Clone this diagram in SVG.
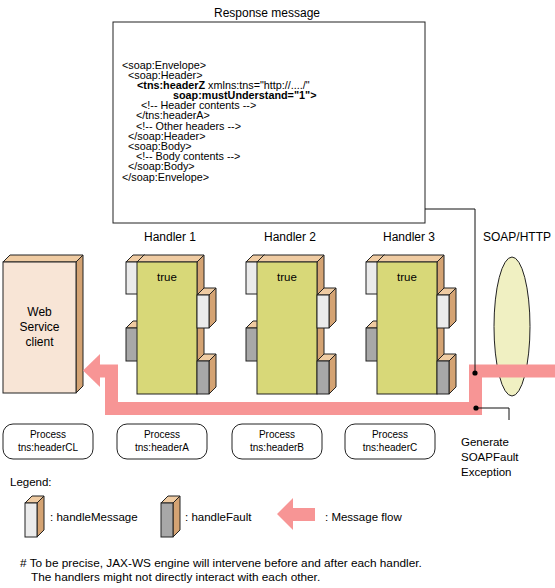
<svg xmlns="http://www.w3.org/2000/svg" width="555" height="588" viewBox="0 0 555 588">
<style>
text{font-family:"Liberation Sans",Arial,sans-serif;fill:#000}
.t12{font-size:12px}
.t11{font-size:11.5px}
.t10{font-size:10px}
.fn{font-size:11.8px}
.x{font-size:10.8px}
.b{font-weight:bold}
.mid{text-anchor:middle}
.ln{stroke:#222;stroke-width:1;stroke-linejoin:miter}
.top{fill:#EFCBA2}
.side{fill:#D4A373}
.wf{fill:#EBEBEB}
.gf{fill:#A8A8A8}
.yf{fill:#D8D878}
.cf{fill:#F8E5D6}
.pink{fill:none;stroke:#F79595;stroke-width:13;stroke-linejoin:miter}
</style>
<rect width="555" height="588" fill="#fff"/>

<g id="response">
<text class="t12 mid" x="267" y="17">Response message</text>
<rect x="113" y="22" width="312" height="201" fill="#fff" stroke="#222" stroke-width="1"/>
<g class="x">
<text x="122" y="68.5">&lt;soap:Envelope&gt;</text>
<text x="128" y="78.7">&lt;soap:Header&gt;</text>
<text x="137" y="88.9"><tspan class="b">&lt;tns:headerZ</tspan> xmlns:tns="http://..../"</text>
<text x="173" y="99.1" class="b">soap:mustUnderstand="1"&gt;</text>
<text x="141" y="109.2">&lt;!-- Header contents --&gt;</text>
<text x="136" y="119.4">&lt;/tns:headerA&gt;</text>
<text x="136" y="129.6">&lt;!-- Other headers --&gt;</text>
<text x="128" y="139.8">&lt;/soap:Header&gt;</text>
<text x="128" y="150">&lt;soap:Body&gt;</text>
<text x="136" y="160.2">&lt;!-- Body contents --&gt;</text>
<text x="128" y="170.3">&lt;/soap:Body&gt;</text>
<text x="122" y="180.5">&lt;/soap:Envelope&gt;</text>
</g>
</g>

<g id="client">
<polygon class="top ln" points="3,262 10,255 83,255 76,262"/>
<polygon class="side ln" points="76,262 83,255 83,386 76,393"/>
<rect class="cf ln" x="3" y="262" width="73" height="131"/>
<text class="t12 mid" x="39.5" y="316">Web</text>
<text class="t12 mid" x="39.5" y="331">Service</text>
<text class="t12 mid" x="39.5" y="346">client</text>
</g>

<g id="soap-http">
<text class="t12 mid" x="517" y="241">SOAP/HTTP</text>
<ellipse cx="512" cy="326.5" rx="18" ry="69.5" fill="#F0F0C2" stroke="#222" stroke-width="1"/>
</g>

<g id="handler1">
<text class="t12 mid" x="170" y="241">Handler 1</text>
<polygon class="top ln" points="126,262 133,255 145,255 138,262"/>
<rect class="wf ln" x="126" y="262" width="12" height="32"/>
<polygon class="top ln" points="126,328 133,321 145,321 138,328"/>
<rect class="gf ln" x="126" y="328" width="12" height="33"/>
<polygon class="top ln" points="137,262 144,255 204,255 197,262"/>
<polygon class="side ln" points="197,262 204,255 204,387 197,394"/>
<rect class="yf ln" x="137" y="262" width="60" height="132"/>
<text class="t11 mid" x="167" y="281">true</text>
<polygon class="top ln" points="197,295 204,288 216,288 209,295"/>
<polygon class="side ln" points="209,295 216,288 216,321 209,328"/>
<rect class="wf ln" x="197" y="295" width="12" height="33"/>
<polygon class="top ln" points="197,361 204,354 216,354 209,361"/>
<polygon class="side ln" points="209,361 216,354 216,387 209,394"/>
<rect class="gf ln" x="197" y="361" width="12" height="33"/>
</g>

<g id="handler2" transform="translate(120,0)">
<text class="t12 mid" x="170" y="241">Handler 2</text>
<polygon class="top ln" points="126,262 133,255 145,255 138,262"/>
<rect class="wf ln" x="126" y="262" width="12" height="32"/>
<polygon class="top ln" points="126,328 133,321 145,321 138,328"/>
<rect class="gf ln" x="126" y="328" width="12" height="33"/>
<polygon class="top ln" points="137,262 144,255 204,255 197,262"/>
<polygon class="side ln" points="197,262 204,255 204,387 197,394"/>
<rect class="yf ln" x="137" y="262" width="60" height="132"/>
<text class="t11 mid" x="167" y="281">true</text>
<polygon class="top ln" points="197,295 204,288 216,288 209,295"/>
<polygon class="side ln" points="209,295 216,288 216,321 209,328"/>
<rect class="wf ln" x="197" y="295" width="12" height="33"/>
<polygon class="top ln" points="197,361 204,354 216,354 209,361"/>
<polygon class="side ln" points="209,361 216,354 216,387 209,394"/>
<rect class="gf ln" x="197" y="361" width="12" height="33"/>
</g>

<g id="handler3" transform="translate(240,0)">
<text class="t12 mid" x="169" y="241">Handler 3</text>
<polygon class="top ln" points="126,262 133,255 145,255 138,262"/>
<rect class="wf ln" x="126" y="262" width="12" height="32"/>
<polygon class="top ln" points="126,328 133,321 145,321 138,328"/>
<rect class="gf ln" x="126" y="328" width="12" height="33"/>
<polygon class="top ln" points="137,262 144,255 204,255 197,262"/>
<polygon class="side ln" points="197,262 204,255 204,387 197,394"/>
<rect class="yf ln" x="137" y="262" width="60" height="132"/>
<text class="t11 mid" x="167" y="281">true</text>
<polygon class="top ln" points="197,295 204,288 216,288 209,295"/>
<polygon class="side ln" points="209,295 216,288 216,321 209,328"/>
<rect class="wf ln" x="197" y="295" width="12" height="33"/>
<polygon class="top ln" points="197,361 204,354 216,354 209,361"/>
<polygon class="side ln" points="209,361 216,354 216,387 209,394"/>
<rect class="gf ln" x="197" y="361" width="12" height="33"/>
</g>

<g id="connectors">
<path class="pink" d="M555,371 H475.5 V408.5 H111.5 V371 H99"/>
<polygon points="83,370.5 100,354 100,387" fill="#F79595"/>
<polyline points="425,209 475,209 475,373" fill="none" stroke="#111" stroke-width="1"/>
<circle cx="475" cy="373" r="2.6" fill="#000"/>
<polyline points="476,408 509,408 509,420" fill="none" stroke="#111" stroke-width="1"/>
<circle cx="476" cy="408" r="2.6" fill="#000"/>
</g>

<g id="proc-cl">
<rect x="3" y="424" width="90" height="35" rx="10" fill="#fff" stroke="#222"/>
<text class="t10 mid" x="48" y="438">Process</text>
<text class="t10 mid" x="48" y="451">tns:headerCL</text>
</g>
<g id="proc-a">
<rect x="117" y="424" width="90" height="35" rx="10" fill="#fff" stroke="#222"/>
<text class="t10 mid" x="162" y="438">Process</text>
<text class="t10 mid" x="162" y="451">tns:headerA</text>
</g>
<g id="proc-b">
<rect x="232" y="424" width="90" height="35" rx="10" fill="#fff" stroke="#222"/>
<text class="t10 mid" x="277" y="438">Process</text>
<text class="t10 mid" x="277" y="451">tns:headerB</text>
</g>
<g id="proc-c">
<rect x="345" y="424" width="90" height="35" rx="10" fill="#fff" stroke="#222"/>
<text class="t10 mid" x="390" y="438">Process</text>
<text class="t10 mid" x="390" y="451">tns:headerC</text>
</g>

<g id="generate">
<text class="t11" x="461" y="446">Generate</text>
<text class="t11" x="461" y="461">SOAPFault</text>
<text class="t11" x="461" y="476">Exception</text>
</g>

<g id="legend">
<text class="t11" x="10" y="486">Legend:</text>
<polygon class="top ln" points="25,503 32,496 44,496 37,503"/>
<polygon class="side ln" points="37,503 44,496 44,530 37,537"/>
<rect class="wf ln" x="25" y="503" width="12" height="34"/>
<text class="t11" x="50" y="521">: handleMessage</text>
<polygon class="top ln" points="161,503 168,496 180,496 173,503"/>
<polygon class="side ln" points="173,503 180,496 180,530 173,537"/>
<rect class="gf ln" x="161" y="503" width="12" height="34"/>
<text class="t11" x="185" y="521">: handleFault</text>
<polygon points="277,514 293,498 293,508 315,508 315,521 293,521 293,530" fill="#F79595"/>
<text class="t11" x="325" y="521">: Message flow</text>
</g>

<g id="note">
<text class="fn" x="20" y="567"># To be precise, JAX-WS engine will intervene before and after each handler.</text>
<text class="fn" x="31" y="581">The handlers might not directly interact with each other.</text>
</g>
</svg>
